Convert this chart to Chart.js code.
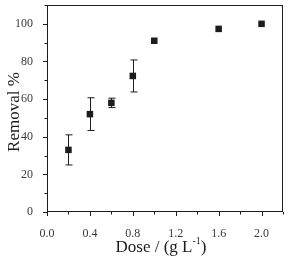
<!DOCTYPE html>
<html>
<head>
<meta charset="utf-8">
<script src="https://cdn.jsdelivr.net/npm/chart.js@4/dist/chart.umd.min.js"></script>
<style>
  html, body { margin: 0; padding: 0; background: #fff; }
  #wrap { width: 289px; height: 258px; }
</style>
</head>
<body>
<div id="wrap"><canvas id="c"></canvas></div>
<script>
// данные с картинки
const doses = [0.2, 0.4, 0.6, 0.8, 1.0, 1.6, 2.0];
const removal = [33, 52, 58, 72.3, 91, 97.3, 100];
const errors = [8, 8.7, 2.5, 8.5, 0, 0.8, 0];
const xTicks = [0.0, 0.4, 0.8, 1.2, 1.6, 2.0];
const yTicks = [0, 20, 40, 60, 80, 100];

const ink = '#1c1c1c';
const serif = '"Liberation Serif", "DejaVu Serif", serif';

// рамка, засечки, планки погрешностей и подписи осей
const framePlugin = {
  id: 'frame',
  afterDatasetsDraw(chart) {
    const { ctx, chartArea: a, scales: { x, y } } = chart;
    ctx.save();
    ctx.strokeStyle = ink;
    ctx.lineWidth = 1;
    ctx.strokeRect(a.left + 0.5, a.top + 0.5, a.right - a.left - 1, a.bottom - a.top - 1);

    // засечки X
    for (let v = 0; v <= 2.2001; v += 0.2) {
      const px = Math.round(x.getPixelForValue(v)) + 0.5;
      const major = Math.round(v * 10) % 4 === 0;
      ctx.beginPath();
      ctx.moveTo(px, a.bottom);
      ctx.lineTo(px, a.bottom + (major ? 4 : 2.5));
      ctx.stroke();
    }
    // засечки Y
    for (let v = 0; v <= 110; v += 10) {
      const py = Math.round(y.getPixelForValue(v)) + 0.5;
      const major = v % 20 === 0;
      ctx.beginPath();
      ctx.moveTo(a.left, py);
      ctx.lineTo(a.left - (major ? 4 : 2.5), py);
      ctx.stroke();
    }

    // планки погрешностей
    doses.forEach((d, i) => {
      if (!errors[i]) return;
      const px = Math.round(x.getPixelForValue(d)) + 0.5;
      const top = y.getPixelForValue(removal[i] + errors[i]);
      const bot = y.getPixelForValue(removal[i] - errors[i]);
      ctx.beginPath();
      ctx.moveTo(px, top);
      ctx.lineTo(px, bot);
      if (errors[i] > 1.5) {
        ctx.moveTo(px - 3, top);
        ctx.lineTo(px + 4, top);
        ctx.moveTo(px - 3, bot);
        ctx.lineTo(px + 4, bot);
      }
      ctx.stroke();
    });

    // подписи осей
    ctx.fillStyle = ink;
    ctx.font = '17px ' + serif;
    ctx.textBaseline = 'alphabetic';
    const main = 'Dose / (g L';
    const sup = '-1';
    const tail = ')';
    const wMain = ctx.measureText(main).width;
    const wTail = ctx.measureText(tail).width;
    ctx.font = '10px ' + serif;
    const wSup = ctx.measureText(sup).width;
    const total = wMain + wSup + wTail;
    let sx = 161 - total / 2;
    const base = 252;
    ctx.font = '17px ' + serif;
    ctx.textAlign = 'left';
    ctx.fillText(main, sx, base);
    ctx.font = '10px ' + serif;
    ctx.fillText(sup, sx + wMain, base - 8);
    ctx.font = '17px ' + serif;
    ctx.fillText(tail, sx + wMain + wSup, base);

    ctx.translate(18.5, 112);
    ctx.rotate(-Math.PI / 2);
    ctx.textAlign = 'center';
    ctx.fillText('Removal %', 0, 0);
    ctx.restore();
  }
};

try {
  const chart = new Chart(document.getElementById('c'), {
    type: 'scatter',
    data: {
      datasets: [{
        data: doses.map((d, i) => ({ x: d, y: removal[i] })),
        pointStyle: 'rect',
        pointRadius: 4.6,
        backgroundColor: ink,
        borderColor: ink,
        borderWidth: 0
      }]
    },
    options: {
      responsive: true,
      maintainAspectRatio: false,
      animation: false,
      layout: { padding: { top: 5, right: 6, left: 0, bottom: 0 } },
      plugins: { legend: { display: false }, tooltip: { enabled: false } },
      scales: {
        x: {
          type: 'linear',
          min: 0,
          max: 2.2,
          afterBuildTicks: s => { s.ticks = xTicks.map(v => ({ value: v })); },
          afterFit: s => { s.height = 46; s.paddingLeft = 0; s.paddingRight = 0; },
          grid: { display: false },
          border: { display: false },
          ticks: {
            padding: 7,
            color: '#3a3a3a',
            font: { family: serif, size: 12 },
            callback: v => v.toFixed(1)
          }
        },
        y: {
          type: 'linear',
          min: 0,
          max: 110,
          afterBuildTicks: s => { s.ticks = yTicks.map(v => ({ value: v })); },
          afterFit: s => { s.width = 47; s.paddingTop = 0; s.paddingBottom = 0; },
          grid: { display: false },
          border: { display: false },
          ticks: {
            padding: 6,
            color: '#3a3a3a',
            font: { family: serif, size: 12 }
          }
        }
      }
    },
    plugins: [framePlugin]
  });
} catch (error) {
  console.error('chart error:', error);
}
</script>
</body>
</html>
